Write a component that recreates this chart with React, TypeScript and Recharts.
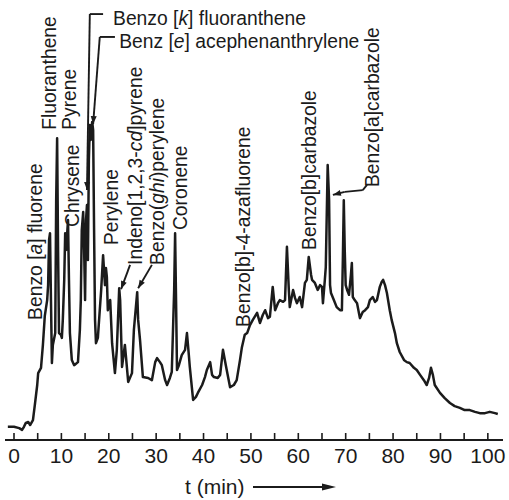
import React from 'react';
import { LineChart, Line, XAxis, YAxis, ReferenceLine, ReferenceDot } from 'recharts';

// detector signal (arbitrary units) vs retention time (min)
const chromatogram: [number, number][] = [
  [-1.3, 3.0], [0, 3.0], [1.1, 2.7], [1.7, 2.3], [2.1, 3.0], [2.5, 3.9], [3.0, 4.1], [3.4, 3.4],
  [4.0, 4.5], [4.4, 8.0], [4.9, 12.5], [5.1, 15.2], [5.7, 16.4], [6.1, 21.6], [6.5, 28.2], [7.0, 31.8],
  [7.2, 35.2], [7.4, 45.5], [7.6, 47.0], [7.8, 31.8], [8.0, 17.5], [8.2, 21.6], [8.7, 24.3], [8.9, 54.5],
  [9.1, 68.6], [9.3, 43.2], [9.5, 24.3], [9.9, 23.9], [10.1, 23.2], [10.3, 27.3], [10.6, 36.4], [10.8, 47.0],
  [11.0, 43.2], [11.2, 46.6], [11.4, 50.0], [11.6, 36.4], [11.8, 24.3], [12.2, 18.2], [12.7, 17.0], [13.5, 17.7],
  [13.9, 25.0], [14.1, 31.8], [14.3, 47.7], [14.6, 51.8], [14.8, 43.2], [15.0, 31.8], [15.2, 50.0], [15.4, 53.4],
  [15.6, 40.9], [15.8, 63.6], [16.0, 71.6], [16.2, 68.2], [16.5, 72.3], [16.7, 70.5], [16.9, 47.7], [17.1, 27.3],
  [17.3, 22.0], [17.7, 23.2], [18.1, 29.5], [18.4, 34.1], [18.8, 42.0], [19.2, 35.2], [19.4, 39.1], [19.6, 37.0],
  [19.8, 29.5], [20.3, 31.8], [20.7, 22.0], [21.3, 15.2], [21.7, 20.5], [22.2, 34.5], [22.4, 31.8], [22.8, 16.6],
  [23.4, 21.6], [23.6, 19.3], [24.1, 13.2], [24.9, 15.2], [25.3, 25.0], [26.0, 33.6], [26.2, 27.3], [26.6, 22.7],
  [27.2, 14.3], [28.3, 14.1], [29.1, 13.6], [29.8, 17.7], [30.2, 18.6], [30.8, 17.7], [31.2, 17.0], [31.9, 13.6],
  [32.3, 12.5], [32.9, 14.1], [33.3, 15.5], [33.8, 34.1], [34.0, 47.0], [34.2, 31.8], [34.4, 15.9], [34.8, 17.0],
  [35.4, 19.3], [36.1, 20.5], [36.5, 24.3], [36.9, 19.3], [37.1, 16.6], [37.8, 9.1], [38.4, 9.8], [38.8, 10.7],
  [39.7, 12.5], [40.3, 14.3], [40.7, 15.9], [41.4, 17.7], [41.8, 14.8], [42.2, 14.3], [43.0, 14.1], [43.5, 14.8],
  [44.1, 20.5], [44.7, 17.0], [45.6, 12.0], [46.4, 12.5], [47.0, 13.6], [47.7, 18.2], [48.1, 21.1], [48.7, 23.9],
  [49.2, 24.3], [49.8, 26.1], [50.4, 27.3], [51.3, 28.9], [51.9, 26.6], [52.5, 28.4], [53.0, 29.5], [53.6, 27.7],
  [54.0, 28.0], [54.6, 34.8], [55.1, 29.5], [55.7, 31.1], [56.1, 31.8], [56.8, 31.4], [57.2, 31.8], [57.6, 43.9],
  [58.0, 34.1], [58.2, 30.2], [58.9, 34.1], [59.3, 32.3], [59.7, 31.1], [60.3, 32.5], [60.8, 30.2], [61.4, 35.7],
  [61.8, 36.4], [62.2, 41.6], [62.7, 37.5], [62.9, 36.4], [63.5, 35.7], [64.1, 34.1], [64.6, 35.2], [65.0, 34.8],
  [65.2, 31.1], [65.6, 36.4], [65.8, 39.3], [66.2, 62.5], [66.5, 54.5], [66.7, 35.2], [66.9, 33.4], [67.5, 31.8],
  [68.1, 30.2], [68.8, 29.5], [69.2, 29.5], [69.4, 40.9], [69.6, 54.5], [69.8, 43.2], [70.0, 35.2], [70.3, 34.1],
  [70.7, 33.0], [71.1, 37.5], [71.3, 40.2], [71.5, 32.5], [71.9, 31.8], [72.4, 31.1], [73.0, 27.7], [73.6, 29.1],
  [74.1, 29.5], [74.7, 30.2], [75.1, 31.8], [75.7, 32.5], [76.2, 31.4], [76.6, 31.8], [77.2, 34.8], [77.6, 35.9],
  [77.9, 36.4], [78.3, 35.2], [78.7, 33.4], [79.3, 29.5], [79.7, 27.3], [80.4, 24.3], [80.8, 22.0], [81.4, 20.0],
  [82.3, 18.2], [82.9, 17.7], [83.5, 17.5], [84.4, 16.4], [85.0, 15.9], [85.7, 14.8], [86.5, 13.6], [87.1, 12.5],
  [87.6, 14.1], [88.0, 16.4], [88.4, 14.8], [88.8, 12.5], [89.9, 10.7], [90.9, 9.5], [92.0, 8.4], [93.0, 7.7],
  [94.1, 7.3], [95.1, 6.8], [96.2, 6.8], [97.3, 6.4], [98.3, 6.1], [99.4, 6.1], [100.4, 6.4], [101.5, 6.1],
  [102.1, 5.9],
];

const minorTicks = [0, 5, 10, 15, 20, 25, 30, 35, 40, 45, 50, 55, 60, 65, 70, 75, 80, 85, 90, 95, 100];
const labelledTicks = [0, 10, 20, 30, 40, 50, 60, 70, 80, 90, 100];

// text between underscores is set in italics
const verticalLabels = [
  { text: 'Benzo [_a_] fluorene', t: 4.4, y: 27.3 },
  { text: 'Fluoranthene', t: 7.3, y: 70.5 },
  { text: 'Pyrene', t: 11.7, y: 70.5 },
  { text: 'Chrysene', t: 12.3, y: 48.4 },
  { text: 'Perylene', t: 20.4, y: 44.3 },
  { text: 'Indeno[1,2,3-_cd_]pyrene', t: 25.6, y: 39.8 },
  { text: 'Benzo(_ghi_)perylene', t: 30.1, y: 39.8 },
  { text: 'Coronene', t: 35.0, y: 47.7 },
  { text: 'Benzo[b]-4-azafluorene', t: 48.4, y: 25.7 },
  { text: 'Benzo[b]carbazole', t: 62.3, y: 43.2 },
  { text: 'Benzo[a]carbazole', t: 75.6, y: 57.5 },
];

const horizontalLabels = [
  { text: 'Benzo [_k_] fluoranthene', t: 20.9, y: 94.3 },
  { text: 'Benz [_e_] acephenanthrylene', t: 22.2, y: 89.1 },
];

const leaders: [number, number][][] = [
  [[18.8, 96.8], [16.0, 96.8], [15.4, 56.8]],
  [[21.3, 91.6], [18.1, 91.6], [16.7, 71.8]],
  [[24.5, 39.8], [22.6, 34.3]],
  [[29.1, 39.8], [26.2, 34.5]],
  [[74.5, 58.0], [73.6, 56.8], [69.8, 56.4], [67.3, 55.7]],
];

const INK = '#1b1b1b';
const FONT = '"Liberation Sans", Arial, Helvetica, sans-serif';
const LABEL_SIZE = 19.3;

const data = chromatogram.map(([t, v]) => ({ t, v }));

const parts = (s: string) =>
  s.split('_').map((p, i) => (
    <tspan key={i} fontStyle={i % 2 ? 'italic' : 'normal'}>{p}</tspan>
  ));

const TimeTick = (props: any) => {
  const { x, y, payload } = props;
  const v = payload.value;
  return (
    <g>
      <line x1={x} x2={x} y1={y} y2={y - 7} stroke={INK} strokeWidth={1.6} />
      {labelledTicks.includes(v) && (
        <text x={x} y={y + 23} textAnchor="middle" fontSize={21} fill={INK} fontFamily={FONT}>
          {v}
        </text>
      )}
    </g>
  );
};

const AxisTitle = (props: any) => {
  const vb = props.viewBox || { x: 5, y: 440, width: 498, height: 60 };
  const y = vb.y + 54;
  const x0 = vb.x + 180;
  return (
    <g>
      <text x={x0} y={y} fontSize={21} fill={INK} fontFamily={FONT}>t (min)</text>
      <line x1={x0 + 68} x2={x0 + 140} y1={y - 7} y2={y - 7} stroke={INK} strokeWidth={1.8} />
      <path d={`M${x0 + 151},${y - 7} L${x0 + 137},${y - 10.5} L${x0 + 137},${y - 3.5} Z`} fill={INK} />
    </g>
  );
};

const leaderShape = (arrow: boolean) => (p: any) => {
  const { x1, y1, x2, y2 } = p;
  const dx = x2 - x1;
  const dy = y2 - y1;
  const len = Math.sqrt(dx * dx + dy * dy) || 1;
  const ux = dx / len;
  const uy = dy / len;
  const bx = x2 - ux * 8;
  const by = y2 - uy * 8;
  return (
    <g>
      <line x1={x1} y1={y1} x2={x2} y2={y2} stroke={INK} strokeWidth={1.9} />
      {arrow && (
        <path
          d={`M${x2},${y2} L${bx - uy * 3},${by + ux * 3} L${bx + uy * 3},${by - ux * 3} Z`}
          fill={INK}
        />
      )}
    </g>
  );
};

export default function App() {
  return (
    <div style={{ position: 'absolute', left: 0, top: 0, width: 509, height: 500, background: '#fff' }}>
      <LineChart width={509} height={500} data={data} margin={{ top: 0, right: 6, bottom: 0, left: 5 }}>
        <XAxis
          dataKey="t"
          type="number"
          domain={[-1.9, 103.2]}
          allowDataOverflow
          ticks={minorTicks}
          interval={0}
          tickSize={0}
          tickMargin={0}
          tickLine={false}
          tick={<TimeTick />}
          axisLine={{ stroke: INK, strokeWidth: 2.2 }}
          height={60}
          label={{ content: AxisTitle }}
        />
        <YAxis hide type="number" domain={[0, 100]} allowDataOverflow />
        <Line
          type="linear"
          dataKey="v"
          stroke={INK}
          strokeWidth={2.5}
          strokeLinejoin="round"
          dot={false}
          isAnimationActive={false}
        />
        {leaders.map((pts, li) =>
          pts.slice(1).map((b, si) => {
            const a = pts[si];
            const last = si === pts.length - 2;
            return (
              <ReferenceLine
                key={`ld-${li}-${si}`}
                segment={[{ x: a[0], y: a[1] }, { x: b[0], y: b[1] }]}
                ifOverflow="visible"
                shape={leaderShape(last)}
              />
            );
          })
        )}
        {verticalLabels.map((l) => (
          <ReferenceDot
            key={l.text}
            x={l.t}
            y={l.y}
            r={1}
            ifOverflow="visible"
            shape={(p: any) => (
              <text
                x={p.cx}
                y={p.cy}
                transform={`rotate(-90, ${p.cx}, ${p.cy})`}
                dominantBaseline="central"
                fontSize={LABEL_SIZE}
                fill={INK}
                fontFamily={FONT}
              >
                {parts(l.text)}
              </text>
            )}
          />
        ))}
        {horizontalLabels.map((l) => (
          <ReferenceDot
            key={l.text}
            x={l.t}
            y={l.y}
            r={1}
            ifOverflow="visible"
            shape={(p: any) => (
              <text x={p.cx} y={p.cy} fontSize={LABEL_SIZE} fill={INK} fontFamily={FONT}>
                {parts(l.text)}
              </text>
            )}
          />
        ))}
      </LineChart>
    </div>
  );
}
